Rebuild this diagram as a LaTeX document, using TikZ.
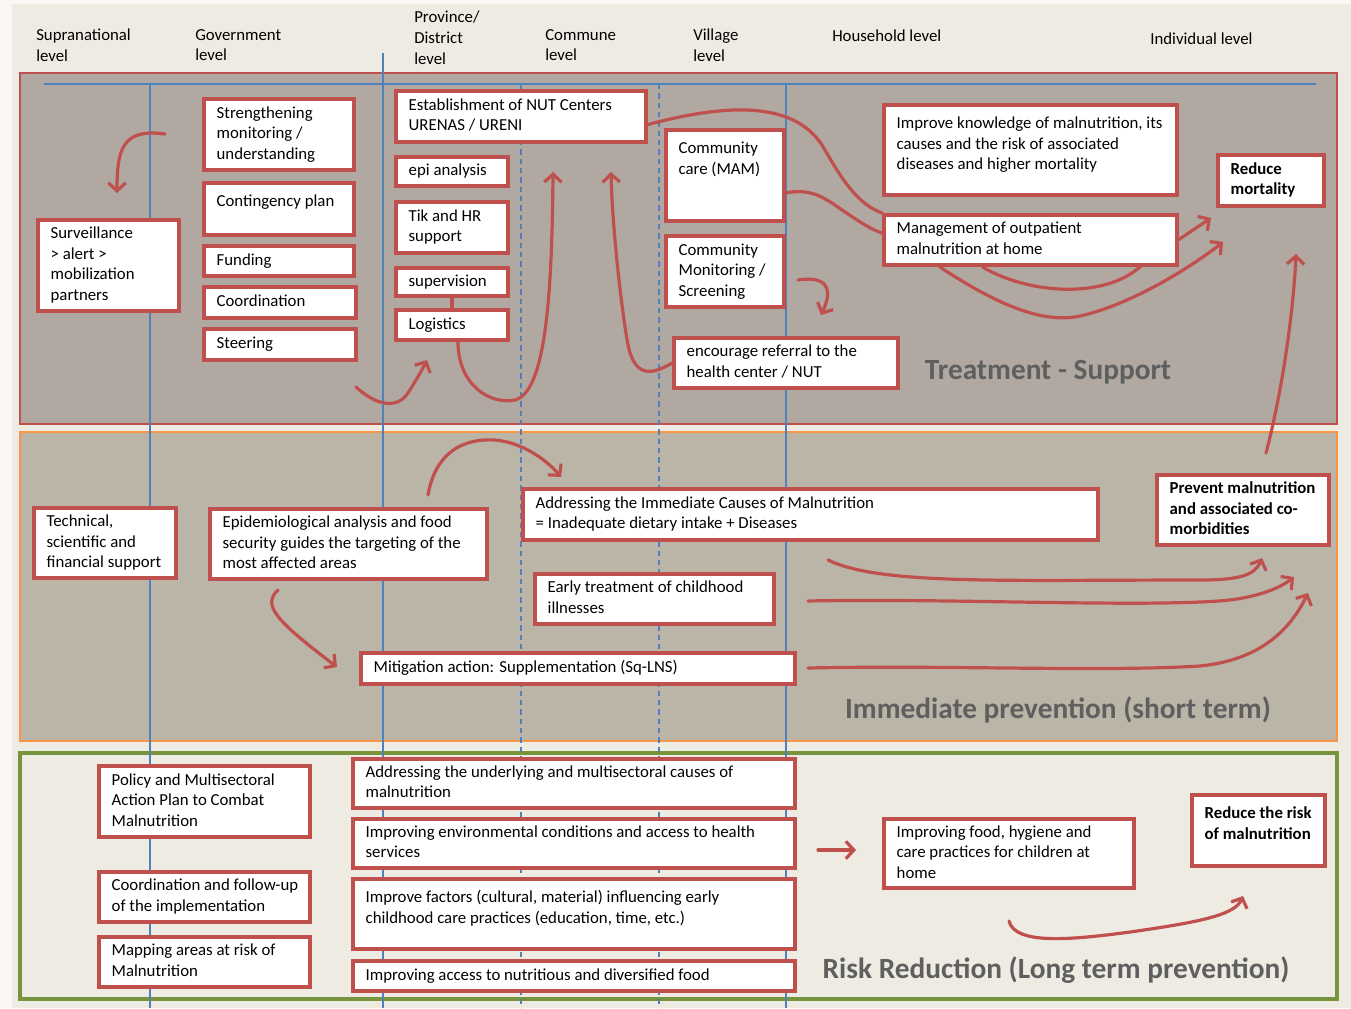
\documentclass[tikz,border=0pt]{standalone}
\usepackage{fontspec}
\setmainfont{Carlito}
\usetikzlibrary{arrows.meta}
\definecolor{bxred}{RGB}{192,80,77}
\definecolor{topfill}{RGB}{177,169,161}
\definecolor{midfill}{RGB}{187,181,168}
\definecolor{pagebg}{RGB}{238,236,226}
\definecolor{lineblue}{RGB}{79,129,189}
\definecolor{panorange}{RGB}{247,150,70}
\definecolor{pangreen}{RGB}{119,147,60}
\definecolor{titlegray}{RGB}{95,95,95}
\pgfdeclarelayer{back}\pgfdeclarelayer{mid}\pgfsetlayers{back,mid,main}
\newcommand\bx[7]{%
 \node[box,anchor=north west,minimum width={0.75pt*(#4-#2-4)},minimum height={0.75pt*(#5-#3-4)}] (#1) at (#2,#3)
 {\parbox[c][\dimexpr 0.75pt*(#5-#3-4)-14pt\relax][#6]{\dimexpr 0.75pt*(#4-#2-4)-19pt\relax}{\begin{tabular}[t]{@{}l@{}}#7\end{tabular}}};}
\begin{document}
\begin{tikzpicture}[x=0.75pt,y=-0.75pt,
  box/.style={draw=bxred,line width=3pt,fill=white,inner sep=0pt,font=\fontsize{12.6}{15.4}\selectfont},
  hdr/.style={anchor=north west,align=left,inner sep=0pt,font=\fontsize{12.6}{15.4}\selectfont},
  ttl/.style={text=titlegray,font=\fontsize{22}{26}\selectfont\bfseries,inner sep=0pt},
  arr/.style={draw=bxred,line width=2.4pt,line cap=round,-{Straight Barb[length=6pt,width=13pt]}},
  lnk/.style={draw=bxred,line width=2.4pt,line cap=round},
  vl/.style={draw=lineblue,line width=0.8pt},
  vd/.style={draw=lineblue,line width=0.8pt,dash pattern=on 4pt off 3pt}]
\useasboundingbox (0,0) rectangle (1351,1008);
\begin{pgfonlayer}{back}
\fill[white!60!pagebg] (0,0) rectangle (1351,1008);
\fill[pagebg] (12,4) rectangle (1351,1008);
\draw[draw=bxred,line width=1.5pt,fill=topfill] (20,73) rectangle (1337,424);
\draw[draw=panorange,line width=1.5pt,fill=midfill] (20,432) rectangle (1337,741);
\draw[draw=pangreen,line width=2.4pt] (20,753) rectangle (1337,999);
\draw[vl] (44,84) -- (1316,84);
\draw[vl] (150,84) -- (150,1008);
\draw[vl] (383,53) -- (383,1008);
\draw[vl] (786,84) -- (786,1008);
\draw[vd] (521,84) -- (521,1008);
\draw[vd] (659,84) -- (659,1008);
\end{pgfonlayer}

% headers
\node[hdr] (hsup) at (36,29) {Supranational\\level};
\node[hdr] (hgov) at (195,29) {Government\\level};
\node[hdr] (hpro) at (414,11) {Province/\\District\\level};
\node[hdr] (hcom) at (545,29) {Commune\\level};
\node[hdr] (hvil) at (693,29) {Village\\level};
\node[hdr] (hhou) at (832,30) {Household level};
\node[hdr] (hind) at (1150,33) {Individual level};

% titles
\node[ttl] (t1) at (1048,372) {Treatment - Support};
\node[ttl] (t2) at (1058,710) {Immediate prevention (short term)};
\node[ttl] (t3) at (1056,970) {Risk Reduction (Long term prevention)};

% top panel boxes
\bx{surv}{36}{218}{181}{313}{c}{Surveillance\\> alert >\\mobilization\\partners}
\bx{streng}{202}{97}{356}{172}{c}{Strengthening\\monitoring /\\understanding}
\bx{conting}{202}{181}{356}{237}{t}{Contingency plan}
\bx{fund}{202}{244}{356}{278}{c}{Funding}
\bx{coord}{202}{285}{358}{320}{c}{Coordination}
\bx{steer}{202}{327}{358}{362}{c}{Steering}
\bx{estab}{394}{89}{648}{144}{c}{Establishment of NUT Centers\\URENAS / URENI}
\bx{epi}{394}{155}{510}{188}{c}{epi analysis}
\bx{tik}{394}{200}{510}{255}{c}{Tik and HR\\support}
\bx{superv}{394}{266}{510}{298}{c}{supervision}
\bx{logis}{394}{308}{510}{342}{c}{Logistics}
\bx{commcare}{664}{128}{786}{223}{t}{Community\\care (MAM)}
\bx{commmon}{664}{234}{786}{309}{c}{Community\\Monitoring /\\Screening}
\bx{referral}{672}{336}{900}{390}{c}{encourage referral to the\\health center / NUT}
\bx{knowl}{882}{103}{1179}{197}{t}{Improve knowledge of malnutrition, its\\causes and the risk of associated\\diseases and higher mortality}
\bx{manag}{882}{213}{1179}{267}{c}{Management of outpatient\\malnutrition at home}
\bx{mort}{1216}{153}{1326}{208}{c}{\bfseries Reduce\\\bfseries mortality}

% middle panel boxes
\bx{techn}{32}{506}{178}{580}{c}{Technical,\\scientific and\\financial support}
\bx{epid}{208}{507}{489}{581}{c}{Epidemiological analysis and food\\security guides the targeting of the\\most affected areas}
\bx{immed}{521}{487}{1100}{542}{c}{Addressing the Immediate Causes of Malnutrition\\= Inadequate dietary intake + Diseases}
\bx{early}{533}{572}{776}{626}{c}{Early treatment of childhood\\illnesses}
\bx{mitig}{359}{651}{797}{686}{c}{Mitigation action: Supplementation (Sq-LNS)}
\bx{prevent}{1155}{473}{1331}{547}{c}{\bfseries Prevent malnutrition\\\bfseries and associated co-\\\bfseries morbidities}

% bottom panel boxes
\bx{policy}{97}{764}{312}{839}{c}{Policy and Multisectoral\\Action Plan to Combat\\Malnutrition}
\bx{coordfu}{97}{870}{312}{924}{c}{Coordination and follow-up\\of the implementation}
\bx{mapping}{97}{935}{312}{989}{c}{Mapping areas at risk of\\Malnutrition}
\bx{under}{351}{757}{797}{810}{c}{Addressing the underlying and multisectoral causes of\\malnutrition}
\bx{envir}{351}{817}{797}{870}{c}{Improving environmental conditions and access to health\\services}
\bx{factors}{351}{877}{797}{951}{t}{Improve factors (cultural, material) influencing early\\childhood care practices (education, time, etc.)}
\bx{access}{351}{959}{797}{993}{c}{Improving access to nutritious and diversified food}
\bx{foodhyg}{882}{817}{1136}{890}{c}{Improving food, hygiene and\\care practices for children at\\home}
\bx{risk}{1190}{793}{1327}{868}{t}{\bfseries Reduce the risk\\\bfseries of malnutrition}

% free ends
\coordinate (a1s) at (165,134);  \coordinate (a1e) at (117,193);
\coordinate (a2s) at (356,387);  \coordinate (a2e) at (427,360);
\coordinate (a3e) at (553,172);
\coordinate (a4e) at (611,172);
\coordinate (a7e) at (1211,218);
\coordinate (a8e) at (1223,242);
\coordinate (a9s) at (798,280);  \coordinate (a9e) at (821,315);
\coordinate (a10s) at (1266,453); \coordinate (a10e) at (1296,254);
\coordinate (a11s) at (428,495); \coordinate (a11e) at (561,477);
\coordinate (a12s) at (278,590); \coordinate (a12e) at (337,667);
\coordinate (a13s) at (828,560); \coordinate (a13e) at (1262,558);
\coordinate (a14s) at (808,601); \coordinate (a14e) at (1294,577);
\coordinate (a15s) at (808,668); \coordinate (a15e) at (1308,593);
\coordinate (a16s) at (818,850); \coordinate (a16e) at (856,850);
\coordinate (a17s) at (1009,921); \coordinate (a17e) at (1243,896);

\begin{pgfonlayer}{mid}
\draw[arr] (a1s) .. controls (122,128) and (117,150) .. (a1e);
\draw[arr] (a2s) .. controls (372,402) and (395,412) .. (408,393) .. controls (415,382) and (422,370) .. (a2e);
\draw[lnk] (superv) -- (logis);
\draw[arr] ([xshift=4.5pt]logis.south) .. controls (458,385) and (490,405) .. (515,400) .. controls (545,392) and (552,300) .. (a3e);
\draw[arr] (referral.west) .. controls (652,375) and (635,378) .. (628,345) .. controls (620,300) and (612,220) .. (a4e);
\draw[lnk] ([yshift=-6pt]estab.east) .. controls (740,100) and (800,105) .. (825,150) .. controls (845,185) and (860,205) .. (manag.north west);
\draw[lnk] ([yshift=-13pt]commcare.east) .. controls (812,188) and (825,198) .. (845,212) .. controls (860,222) and (872,230) .. ([yshift=-15pt]manag.north west);
\draw[arr] ([xshift=-36pt]manag.south) .. controls (1030,295) and (1110,300) .. (1145,262) -- (a7e);
\draw[arr] ([xshift=-68pt]manag.south) .. controls (990,300) and (1040,325) .. (1080,316) .. controls (1130,305) and (1190,268) .. (a8e);
\draw[arr] (a9s) .. controls (830,275) and (832,292) .. (a9e);
\draw[arr] (a10s) .. controls (1285,380) and (1294,300) .. (a10e);
\draw[arr] (a11s) .. controls (435,455) and (460,438) .. (495,440) .. controls (520,442) and (545,458) .. (a11e);
\draw[arr] (a12s) .. controls (262,605) and (275,620) .. (a12e);
\draw[arr] (a13s) .. controls (880,585) and (1000,580) .. (1200,580) .. controls (1240,580) and (1255,575) .. (a13e);
\draw[arr] (a14s) .. controls (950,598) and (1150,608) .. (1230,600) .. controls (1260,596) and (1280,588) .. (a14e);
\draw[arr] (a15s) .. controls (950,665) and (1100,672) .. (1200,666) .. controls (1260,660) and (1290,630) .. (a15e);
\draw[arr] (a16s) -- (a16e);
\draw[arr] (a17s) .. controls (1015,945) and (1070,940) .. (1130,932) .. controls (1200,922) and (1235,915) .. (a17e);
\end{pgfonlayer}
\end{tikzpicture}
\end{document}
